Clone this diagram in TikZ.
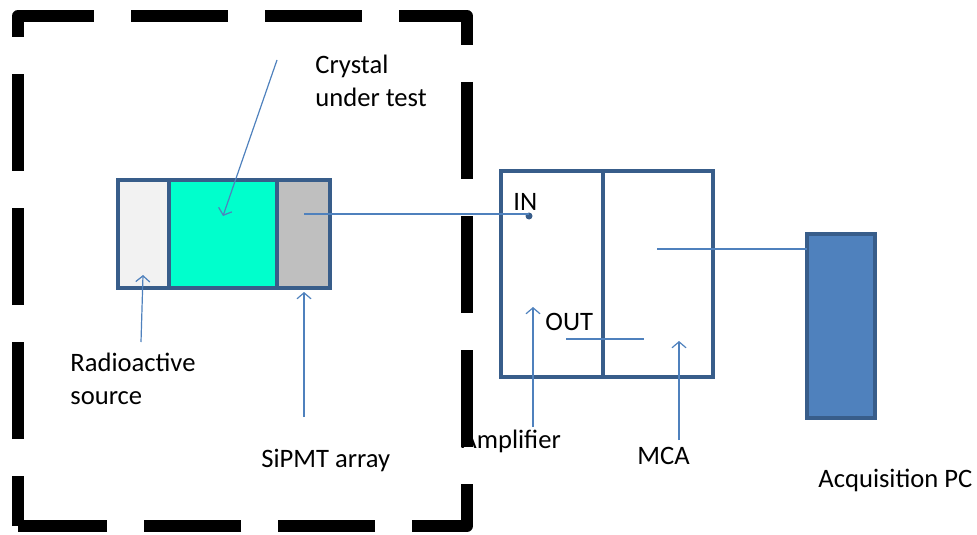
\documentclass[tikz,border=0pt]{standalone}
\usepackage{fontspec}
\setmainfont{Carlito}
\usetikzlibrary{arrows.meta}

\definecolor{edgeblue}{RGB}{56,93,138}
\definecolor{lineblue}{RGB}{79,129,189}
\definecolor{crystalgreen}{RGB}{0,255,204}
\definecolor{sourcegray}{RGB}{242,242,242}
\definecolor{sipmgray}{RGB}{191,191,191}

\tikzset{
  block/.style={draw=edgeblue,line width=2pt,inner sep=0pt,outer sep=0pt},
  pointer/.style={lineblue,line width=0.6pt,-{Straight Barb[length=3pt,width=7pt]}},
  wire/.style={lineblue,line width=0.6pt},
  textlabel/.style={anchor=base west,inner sep=0pt,align=left,
    font=\fontsize{13.3}{16.5}\selectfont}
}

\begin{document}
\begin{tikzpicture}[x=0.5pt,y=-0.5pt]

\useasboundingbox (0,0) rectangle (977,534);

%=================================================
% DARK BOX
%=================================================

\draw[line width=6pt,line join=round,
dash pattern=on 48.5pt off 18.5pt,dash phase=23.5pt]
(18,526)--(18,16)--(467,16)--(467,526)--cycle;

% source, crystal, SiPMT

\node[block,fill=sourcegray,minimum width=25.5pt,minimum height=54pt]
(source) at (143.5,234) {};

\node[block,fill=crystalgreen,minimum width=54pt,minimum height=54pt]
(crystal) at (223,234) {};

\node[block,fill=sipmgray,minimum width=26.5pt,minimum height=54pt]
(sipm) at (303.5,234) {};

% labels (base = last line)

\node[textlabel]
(crystaltext) at (315,107)
{Crystal\\under test};

\node[textlabel]
(sourcetext) at (70,404)
{Radioactive\\source};

\node[textlabel]
(sipmtext) at (261,467)
{SiPMT array};

\coordinate (crystaltail) at (277,60);
\coordinate (crystaltip) at (223,216);
\coordinate (sourcetail) at (141,342);
\coordinate (sourcetip) at (143,275);
\coordinate (sipmtail) at (304,417);
\coordinate (sipmtip) at (304,292);

\draw[pointer] (crystaltail)--(crystaltip);
\draw[pointer] (sourcetail)--(sourcetip);
\draw[pointer] (sipmtail)--(sipmtip);

%=================================================
% ELECTRONICS
%=================================================

\node[block,minimum width=51pt,minimum height=103pt]
(amp) at (552,274) {};

\node[block,minimum width=55pt,minimum height=103pt]
(mca) at (658,274) {};

\node[block,fill=lineblue,minimum width=34pt,minimum height=92pt]
(pc) at (841,326) {};

\node[circle,fill=edgeblue,inner sep=0pt,minimum size=3.5pt]
(indot) at (529,216) {};

\node[textlabel]
(intext) at (513,210)
{IN};

\node[textlabel]
(outtext) at (545,330)
{OUT};

\node[textlabel]
(amptext) at (461,448)
{Amplifier};

\node[textlabel]
(mcatext) at (637,464)
{MCA};

\node[textlabel]
(pctext) at (818,487)
{Acquisition PC};

% wires

\coordinate (sipmwire) at (304,214);
\coordinate (mcawire) at (657,249);
\coordinate (outstart) at (566,339);
\coordinate (outend) at (644,339);

\draw[wire] (sipmwire)--(sipmwire -| indot.center);
\draw[wire] (outstart)--(outend);
\draw[wire] (mcawire)--(mcawire -| pc.west);

\coordinate (amptail) at (533,427);
\coordinate (amptip) at (533,307);
\coordinate (mcatail) at (679,440);
\coordinate (mcatip) at (679,341);

\draw[pointer] (amptail)--(amptip);
\draw[pointer] (mcatail)--(mcatip);

\end{tikzpicture}
\end{document}
